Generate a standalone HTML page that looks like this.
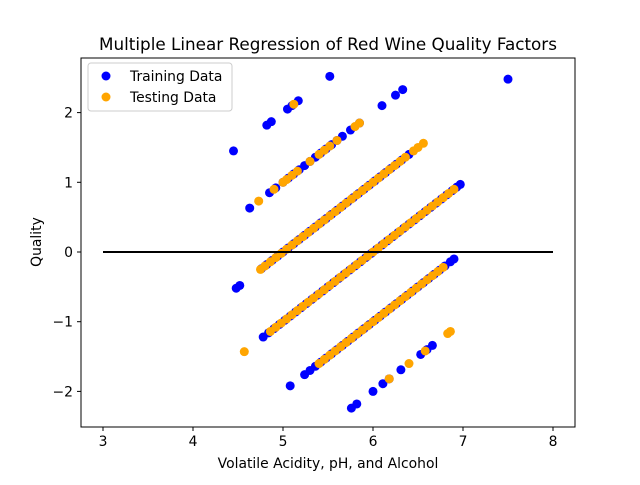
<!DOCTYPE html>
<html><head><meta charset="utf-8"><style>
body{margin:0;background:#fff;}
svg{font-family:"DejaVu Sans","Liberation Sans",sans-serif;}
</style></head><body>
<svg id="chart" width="640" height="480" viewBox="0 0 640 480">
<rect width="640" height="480" fill="#fff"/>
<text x="328" y="50" font-size="16.8" text-anchor="middle">Multiple Linear Regression of Red Wine Quality Factors</text>
<g id="marks"></g>
<line x1="103" y1="252" x2="553" y2="252" stroke="#000" stroke-width="2"/>
<rect x="81" y="58" width="494" height="369" fill="none" stroke="#000" stroke-width="1"/>
<g id="axes"></g>
<text x="328" y="468" font-size="13.9" text-anchor="middle">Volatile Acidity, pH, and Alcohol</text>
<text x="41" y="242" font-size="13.9" text-anchor="middle" transform="rotate(-90 41 242)">Quality</text>
<g>
<rect x="88" y="63" width="144" height="48" rx="3" fill="#fff" fill-opacity="0.8" stroke="#ccc"/>
<circle cx="106" cy="76" r="4.5" fill="#0000ff"/>
<text x="130" y="81" font-size="13.9">Training Data</text>
<circle cx="106" cy="97" r="4.5" fill="#ffa500"/>
<text x="130" y="102" font-size="13.9">Testing Data</text>
</g>
</svg>
<script>
const xTicks=[3,4,5,6,7,8];
const yTicks=[-2,-1,0,1,2];
const trainX=[4.45,4.82,4.87,5.05,5.10,5.17,5.52,
4.63,4.85,4.92,5.00,5.06,5.12,5.18,5.24,5.30,5.36,5.42,5.48,5.54,5.60,5.66,5.75,5.85,6.10,6.25,6.33,
4.48,4.52,4.76,4.82,4.88,4.94,5.00,5.06,5.12,5.18,5.24,5.30,5.36,5.42,5.48,5.54,5.60,5.66,5.72,5.78,5.84,5.90,5.96,6.02,6.08,6.14,6.20,6.26,6.32,6.40,7.50,
4.78,4.84,4.90,4.96,5.02,5.08,5.14,5.20,5.26,5.32,5.38,5.44,5.50,5.56,5.62,5.68,5.74,5.80,5.86,5.92,5.98,6.04,6.10,6.16,6.22,6.28,6.34,6.40,6.46,6.52,6.58,6.64,6.70,6.76,6.82,6.88,6.93,6.97,
5.08,5.24,5.30,5.36,5.42,5.48,5.54,5.60,5.66,5.72,5.78,5.84,5.90,5.96,6.02,6.08,6.14,6.20,6.26,6.32,6.38,6.44,6.50,6.56,6.62,6.68,6.74,6.80,6.86,6.90,
5.76,5.82,6.00,6.11,6.18,6.31,6.53,6.60,6.66];
const trainY=[1.45,1.82,1.87,2.05,2.10,2.17,2.52,
0.63,0.85,0.92,1.00,1.06,1.12,1.18,1.24,1.30,1.36,1.42,1.48,1.54,1.60,1.66,1.75,1.85,2.10,2.25,2.33,
-0.52,-0.48,-0.24,-0.18,-0.12,-0.06,0.00,0.06,0.12,0.18,0.24,0.30,0.36,0.42,0.48,0.54,0.60,0.66,0.72,0.78,0.84,0.90,0.96,1.02,1.08,1.14,1.20,1.26,1.32,1.40,2.48,
-1.22,-1.16,-1.10,-1.04,-0.98,-0.92,-0.86,-0.80,-0.74,-0.68,-0.62,-0.56,-0.50,-0.44,-0.38,-0.32,-0.26,-0.20,-0.14,-0.08,-0.02,0.04,0.10,0.16,0.22,0.28,0.34,0.40,0.46,0.52,0.58,0.64,0.70,0.76,0.82,0.88,0.93,0.97,
-1.92,-1.76,-1.70,-1.64,-1.58,-1.52,-1.46,-1.40,-1.34,-1.28,-1.22,-1.16,-1.10,-1.04,-0.98,-0.92,-0.86,-0.80,-0.74,-0.68,-0.62,-0.56,-0.50,-0.44,-0.38,-0.32,-0.26,-0.20,-0.14,-0.10,
-2.24,-2.18,-2.00,-1.89,-1.82,-1.69,-1.47,-1.40,-1.34];
const testX=[5.12,
4.73,4.90,5.00,5.04,5.10,5.16,5.30,5.40,5.46,5.52,5.60,5.80,5.85,
4.75,4.80,4.86,4.92,4.98,5.04,5.10,5.16,5.22,5.28,5.34,5.40,5.46,5.52,5.58,5.64,5.70,5.76,5.82,5.88,5.94,6.00,6.06,6.12,6.18,6.24,6.30,6.36,6.45,6.50,6.56,
4.57,4.86,4.92,4.98,5.04,5.10,5.16,5.22,5.28,5.34,5.40,5.46,5.52,5.58,5.64,5.70,5.76,5.82,5.88,5.94,6.00,6.06,6.12,6.18,6.24,6.30,6.36,6.42,6.48,6.54,6.60,6.66,6.72,6.78,6.84,6.90,
5.40,5.46,5.52,5.58,5.64,5.70,5.76,5.82,5.88,5.94,6.00,6.06,6.12,6.18,6.24,6.30,6.36,6.42,6.48,6.54,6.60,6.66,6.72,6.78,
6.18,6.40,6.58,6.83,6.86];
const testY=[2.12,
0.73,0.90,1.00,1.04,1.10,1.16,1.30,1.40,1.46,1.52,1.60,1.80,1.85,
-0.25,-0.20,-0.14,-0.08,-0.02,0.04,0.10,0.16,0.22,0.28,0.34,0.40,0.46,0.52,0.58,0.64,0.70,0.76,0.82,0.88,0.94,1.00,1.06,1.12,1.18,1.24,1.30,1.36,1.45,1.50,1.56,
-1.43,-1.14,-1.08,-1.02,-0.96,-0.90,-0.84,-0.78,-0.72,-0.66,-0.60,-0.54,-0.48,-0.42,-0.36,-0.30,-0.24,-0.18,-0.12,-0.06,0.00,0.06,0.12,0.18,0.24,0.30,0.36,0.42,0.48,0.54,0.60,0.66,0.72,0.78,0.84,0.90,
-1.60,-1.54,-1.48,-1.42,-1.36,-1.30,-1.24,-1.18,-1.12,-1.06,-1.00,-0.94,-0.88,-0.82,-0.76,-0.70,-0.64,-0.58,-0.52,-0.46,-0.40,-0.34,-0.28,-0.22,
-1.82,-1.60,-1.42,-1.17,-1.14];
const sx=v=>103+90*(v-3);
const sy=v=>252-69.7*v;
const NS='http://www.w3.org/2000/svg';
const marks=document.getElementById('marks');
function dot(x,y,c,name){
 const e=document.createElementNS(NS,'circle');
 e.setAttribute('cx',sx(x));e.setAttribute('cy',sy(y));e.setAttribute('r',4.5);e.setAttribute('fill',c);
 
 
 marks.appendChild(e);
}
trainX.forEach((x,i)=>dot(x,trainY[i],'#0000ff','training-point'));
testX.forEach((x,i)=>dot(x,testY[i],'#ffa500','testing-point'));
const axes=document.getElementById('axes');
xTicks.forEach(t=>{
 const l=document.createElementNS(NS,'line');
 l.setAttribute('x1',sx(t));l.setAttribute('x2',sx(t));l.setAttribute('y1',427);l.setAttribute('y2',431);l.setAttribute('stroke','#000');
 
 
 axes.appendChild(l);
 const s=document.createElementNS(NS,'text');
 s.setAttribute('x',sx(t));s.setAttribute('y',446);s.setAttribute('font-size','13.9');s.setAttribute('text-anchor','middle');
 s.textContent=t;
 
 
 axes.appendChild(s);
});
yTicks.forEach(t=>{
 const l=document.createElementNS(NS,'line');
 l.setAttribute('x1',77);l.setAttribute('x2',81);l.setAttribute('y1',sy(t));l.setAttribute('y2',sy(t));l.setAttribute('stroke','#000');
 
 
 axes.appendChild(l);
 const s=document.createElementNS(NS,'text');
 s.setAttribute('x',73);s.setAttribute('y',sy(t)+5);s.setAttribute('font-size','13.9');s.setAttribute('text-anchor','end');
 s.textContent=t<0?'\u2212'+(-t):t;
 
 
 axes.appendChild(s);
});
</script>
</body></html>
